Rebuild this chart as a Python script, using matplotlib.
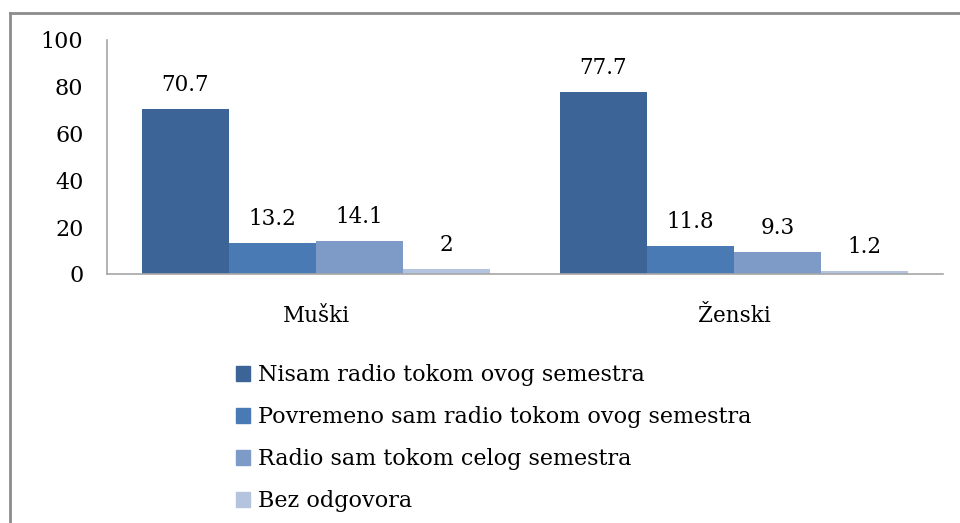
import matplotlib
matplotlib.use("Agg")
import matplotlib.pyplot as plt
import numpy as np
from matplotlib.lines import Line2D
from matplotlib.patches import Patch

# data
groups = ["Muški", "Ženski"]
series = ["Nisam radio tokom ovog semestra",
          "Povremeno sam radio tokom ovog semestra",
          "Radio sam tokom celog semestra",
          "Bez odgovora"]
values = [[70.7, 77.7],
          [13.2, 11.8],
          [14.1, 9.3],
          [2, 1.2]]
labels = [["70.7", "77.7"], ["13.2", "11.8"], ["14.1", "9.3"], ["2", "1.2"]]
colors = ["#3c6496", "#4a7ab4", "#7e9bc8", "#b4c4de"]

plt.rcParams["font.family"] = ["DejaVu Serif"]

fig = plt.figure(figsize=(9.6, 5.23), dpi=100)
ax = fig.add_axes([107 / 960, 1 - 274 / 523, (943 - 107) / 960, (274 - 40) / 523])

x = np.arange(len(groups)) + 0.5
w = 0.2085
for i, s in enumerate(series):
    pos = x + (i - 1.5) * w
    bars = ax.bar(pos, values[i], width=w, color=colors[i], label=s)
    for b, lab in zip(bars, labels[i]):
        ax.annotate(lab, (b.get_x() + b.get_width() / 2, b.get_height()),
                    xytext=(0, 13), textcoords="offset pixels",
                    ha="center", va="bottom", fontsize=15.5)

ax.set_xlim(0, 2)
ax.set_ylim(0, 100)
ax.set_yticks([0, 20, 40, 60, 80, 100])
ax.set_xticks(x)
ax.set_xticklabels(groups, fontsize=15.5)
ax.tick_params(axis="y", length=0, pad=17, labelsize=16)
ax.tick_params(axis="x", length=0, pad=22)
for sp in ["top", "right"]:
    ax.spines[sp].set_visible(False)
for sp in ["left", "bottom"]:
    ax.spines[sp].set_color("#a6a6a6")
    ax.spines[sp].set_linewidth(1.2)

# legend below
handles = [Patch(color=c) for c in colors]
fig.legend(handles, series, loc="upper left", bbox_to_anchor=(216 / 960, 1 - 344 / 523),
           frameon=False, fontsize=16, handlelength=0.65, handleheight=0.65,
           handletextpad=0.35, labelspacing=0.9)

# outer frame (left and top edges visible)
fig.add_artist(Line2D([10 / 960, 10 / 960], [0, 1 - 13 / 523], transform=fig.transFigure,
                      color="#8c8c8c", linewidth=2))
fig.add_artist(Line2D([10 / 960, 1], [1 - 13 / 523, 1 - 13 / 523], transform=fig.transFigure,
                      color="#8c8c8c", linewidth=2))

fig.savefig("out.png", dpi=100)
